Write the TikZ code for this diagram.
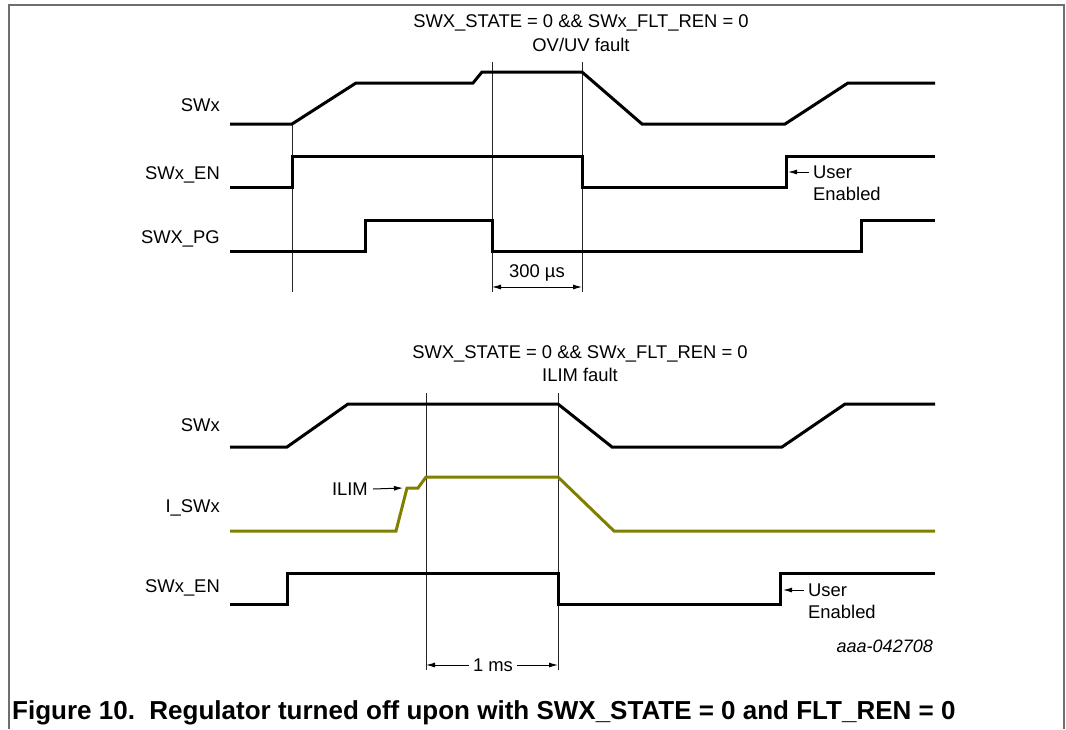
\documentclass[tikz,border=0pt]{standalone}
\usepackage{fontspec}
\setmainfont{Liberation Sans}
\usetikzlibrary{arrows.meta}
\definecolor{olivewave}{RGB}{128,128,0}
\definecolor{framegray}{RGB}{110,110,110}
\begin{document}
\begin{tikzpicture}[x=1pt,y=-1pt,
  wave/.style={line width=3pt,line join=miter},
  lbl/.style={font=\fontsize{18.4}{21}\selectfont,inner sep=0pt},
  marker/.style={line width=1pt,black!85},
  arr/.style={-{Latex[length=9pt,width=5pt]},line width=1pt},
  dblarr/.style={{Latex[length=9pt,width=5pt]}-{Latex[length=9pt,width=5pt]},line width=1pt}]
\useasboundingbox (0,0) rectangle (1066,729);
\draw[framegray,line width=2pt] (9,729) -- (9,5) -- (1064,5) -- (1064,729);

% ---------- top diagram ----------
\node[lbl] (t1) at (581,23) {SWX\_STATE = 0 \&\& SWx\_FLT\_REN = 0};
\node[lbl] (t1b) at (581,45) {OV/UV fault};
\node[lbl,anchor=base east] (swxA) at (220,111) {SWx};
\node[lbl,anchor=base east] (enA) at (220,179) {SWx\_EN};
\node[lbl,anchor=base east] (pgA) at (220,243) {SWX\_PG};

\coordinate (m1t) at (292,124); \coordinate (m1b) at (292,292);
\coordinate (m2t) at (492,62);  \coordinate (m2b) at (492,292);
\coordinate (m3t) at (582,62);  \coordinate (m3b) at (582,292);
\draw[marker] (m1t) -- (m1b);
\draw[marker] (m2t) -- (m2b);
\draw[marker] (m3t) -- (m3b);

\draw[wave] (230,124) -- (292,124) -- (356,83) -- (473,83) -- (482,72) -- (582,72) -- (642,124) -- (785,124) -- (848,83) -- (935,83);
\draw[wave] (230,187) -- (292,187) -- (292,156) -- (582,156) -- (582,187) -- (786,187) -- (786,156) -- (935,156);
\draw[wave] (230,251) -- (365,251) -- (365,220) -- (492,220) -- (492,251) -- (861,251) -- (861,220) -- (935,220);

\coordinate (a300l) at (492,287); \coordinate (a300r) at (582,287);
\draw[dblarr] (a300l) -- (a300r);
\node[lbl] (t300) at (537,273) {300 µs};

\coordinate (ueA) at (788,172);
\node[lbl,anchor=west] (userA) at (813,172) {User};
\node[lbl,anchor=west] (enabledA) at (813,194) {Enabled};
\draw[arr] ([xshift=-4pt]userA.west) -- (ueA);

% ---------- bottom diagram ----------
\node[lbl] (t2) at (580,354) {SWX\_STATE = 0 \&\& SWx\_FLT\_REN = 0};
\node[lbl] (t2b) at (580,375) {ILIM fault};
\node[lbl,anchor=base east] (swxB) at (220,431) {SWx};
\node[lbl,anchor=base east] (iswB) at (220,512) {I\_SWx};
\node[lbl,anchor=base east] (enB) at (220,592) {SWx\_EN};

\coordinate (m4t) at (426,393); \coordinate (m4b) at (426,670);
\coordinate (m5t) at (558,393); \coordinate (m5b) at (558,670);
\draw[marker] (m4t) -- (m4b);
\draw[marker] (m5t) -- (m5b);

\draw[wave] (230,447) -- (287,447) -- (348,404) -- (558,404) -- (612,447) -- (782,447) -- (845,404) -- (935,404);
\draw[wave,olivewave] (230,531) -- (396,531) -- (407,488) -- (418,488) -- (426,477) -- (558,477) -- (614,531) -- (935,531);
\draw[wave] (230,604) -- (287,604) -- (287,573) -- (558,573) -- (558,604) -- (780,604) -- (780,573) -- (935,573);

\node[lbl,anchor=east] (ilim) at (368,489) {ILIM};
\coordinate (ilimtip) at (403,488);
\draw[arr] ([xshift=5pt]ilim.east) -- (ilimtip);

\coordinate (ueB) at (783,590);
\node[lbl,anchor=west] (userB) at (808,590) {User};
\node[lbl,anchor=west] (enabledB) at (808,612) {Enabled};
\draw[arr] ([xshift=-4pt]userB.west) -- (ueB);

\node[lbl,inner xsep=4pt] (t1ms) at (493,665) {1 ms};
\coordinate (a1l) at (426,665); \coordinate (a1r) at (558,665);
\draw[arr] (t1ms.west) -- (a1l);
\draw[arr] (t1ms.east) -- (a1r);

\node[font=\fontsize{18}{21}\selectfont\itshape,inner sep=0pt,anchor=east] (code) at (933,646) {aaa-042708};

\node[font=\fontsize{26}{30}\selectfont\bfseries,inner sep=0pt,anchor=base west] (caption) at (12,719) {Figure 10.\ \ Regulator turned off upon with SWX\_STATE = 0 and FLT\_REN = 0};
\end{tikzpicture}
\end{document}
